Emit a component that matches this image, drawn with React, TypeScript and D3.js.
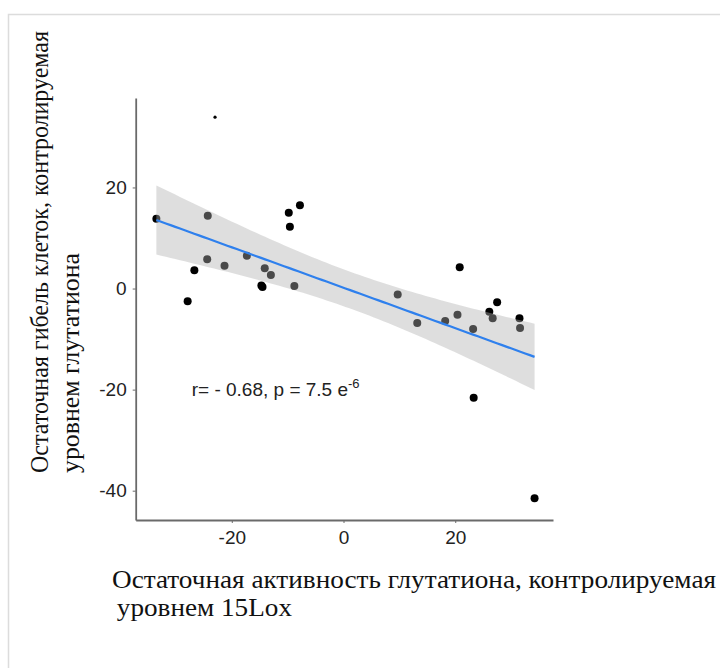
import { useRef, useEffect } from "react";
import * as d3 from "d3";

// points (x = residual glutathione activity, y = residual cell death)
const xVals = [-33.5, -24.3, -9.8, -7.8, -9.6, -24.4, -17.3, -26.7, -21.3, -14.1, -13.0, -14.7, -14.5, -8.8, -27.9,
  20.8, 9.7, 13.2, 18.2, 20.4, 23.2, 27.5, 26.1, 26.7, 31.5, 31.6, 23.3, 34.2];
const yVals = [13.8, 14.4, 15.0, 16.5, 12.2, 5.8, 6.5, 3.6, 4.5, 4.0, 2.7, 0.6, 0.3, 0.5, -2.5,
  4.2, -1.2, -6.8, -6.4, -5.2, -8.0, -2.7, -4.6, -5.9, -5.9, -7.8, -21.6, -41.5];
// the tiny stray mark above the cloud
const strayX = [-23.0];
const strayY = [33.9];

const xTicks = [-20, 0, 20];
const yTicks = [-40, -20, 0, 20];

// fitted line as drawn in the picture, 95% band
const fitIntercept = 0.16;
const fitSlope = -0.4;
const tCrit = 2.18;

const yLabelLines = ["Остаточная гибель клеток, контролируемая", "уровнем глутатиона"];
const xLabelLines = ["Остаточная активность глутатиона, контролируемая", " уровнем 15Lox"];

const Chart = () => {
  const svgRef = useRef<SVGSVGElement>(null);

  useEffect(() => {
    const svg = d3.select(svgRef.current);
    svg.selectAll("*").remove();

    const x = d3.scaleLinear().domain([-37.2, 37.5]).range([135.7, 553]);
    const y = d3.scaleLinear().domain([-45.8, 37.7]).range([520, 98]);

    // outer frame
    svg.append("rect")
      .attr("x", 8.5).attr("y", 14.5)
      .attr("width", 760).attr("height", 700)
      .attr("fill", "none")
      .attr("stroke", "#dcdcdc")
      .attr("stroke-width", 1.5);

    // points first, ribbon lays over them (that's why the inner ones look grey)
    const pts = xVals.map((v, i) => ({ x: v, y: yVals[i] }));
    svg.append("g")
      .selectAll("circle")
      .data(pts)
      .join("circle")
      .attr("cx", (d) => x(d.x))
      .attr("cy", (d) => y(d.y))
      .attr("r", 4)
      .attr("fill", "#000");

    svg.append("g")
      .selectAll("circle")
      .data(strayX.map((v, i) => ({ x: v, y: strayY[i] })))
      .join("circle")
      .attr("cx", (d) => x(d.x))
      .attr("cy", (d) => y(d.y))
      .attr("r", 1.6)
      .attr("fill", "#000");

    // confidence band
    const n = xVals.length;
    const mx = d3.mean(xVals) as number;
    const sxx = d3.sum(xVals, (v) => (v - mx) ** 2);
    const rss = d3.sum(pts, (d) => (d.y - (fitIntercept + fitSlope * d.x)) ** 2);
    const se = Math.sqrt(rss / (n - 2));
    const [x0, x1] = d3.extent(xVals) as [number, number];
    const grid = d3.range(0, 81).map((i) => x0 + ((x1 - x0) * i) / 80);
    const band = grid.map((gx) => {
      const fit = fitIntercept + fitSlope * gx;
      const hw = tCrit * se * Math.sqrt(1 / n + (gx - mx) ** 2 / sxx);
      return { x: gx, fit, lo: fit - hw, hi: fit + hw };
    });

    svg.append("path")
      .datum(band)
      .attr("d", d3.area<any>().x((d) => x(d.x)).y0((d) => y(d.lo)).y1((d) => y(d.hi)))
      .attr("fill", "#b0b0b0")
      .attr("fill-opacity", 0.42);

    svg.append("path")
      .datum(band)
      .attr("d", d3.line<any>().x((d) => x(d.x)).y((d) => y(d.fit)))
      .attr("fill", "none")
      .attr("stroke", "#2f80ed")
      .attr("stroke-width", 2.2);

    // axes (plain hyphen for negatives, like the original)
    const fmt = (d: any) => String(d);
    const yAxis = svg.append("g")
      .attr("transform", "translate(135.7,0)")
      .call(d3.axisLeft(y).tickValues(yTicks).tickSize(3).tickSizeOuter(0).tickPadding(6).tickFormat(fmt));
    const xAxis = svg.append("g")
      .attr("transform", "translate(0,520)")
      .call(d3.axisBottom(x).tickValues(xTicks).tickSize(3).tickSizeOuter(0).tickPadding(8).tickFormat(fmt));
    [xAxis, yAxis].forEach((g) => {
      g.select(".domain").attr("stroke", "#6a6a6a").attr("stroke-width", 1.8);
      g.selectAll(".tick line").attr("stroke", "#6a6a6a");
      g.selectAll(".tick text")
        .attr("fill", "#222")
        .style("font-family", "'Liberation Sans', Arial, sans-serif")
        .style("font-size", "19px");
    });

    // annotation
    const ann = svg.append("text")
      .attr("x", 191.7).attr("y", 395.5)
      .attr("fill", "#222")
      .style("font-family", "'Liberation Sans', Arial, sans-serif")
      .style("font-size", "19px");
    ann.append("tspan").text("r= - 0.68, p = 7.5 e");
    ann.append("tspan").attr("dy", -8).style("font-size", "13px").text("-6");

    // axis titles
    const serif = "'Liberation Serif', 'Times New Roman', serif";
    const yLab = svg.append("g").attr("transform", "rotate(-90)");
    yLab.selectAll("text")
      .data(yLabelLines)
      .join("text")
      .attr("x", -473)
      .attr("y", (d, i) => 48 + i * 31)
      .attr("textLength", (d, i) => (i === 0 ? 442 : 220))
      .attr("lengthAdjust", "spacingAndGlyphs")
      .attr("fill", "#111")
      .style("font-family", serif)
      .style("font-size", "25px")
      .text((d) => d);

    svg.append("g")
      .selectAll("text")
      .data(xLabelLines)
      .join("text")
      .attr("x", (d, i) => (i === 0 ? 112 : 110))
      .attr("y", (d, i) => 588 + i * 28)
      .attr("textLength", (d, i) => (i === 0 ? 604 : 182))
      .attr("lengthAdjust", "spacingAndGlyphs")
      .attr("fill", "#111")
      .style("font-family", serif)
      .style("font-size", "25px")
      .style("white-space", "pre")
      .text((d) => d);
  }, []);

  return (
    <svg
      ref={svgRef}
      width={720}
      height={668}
      style={{ position: "absolute", left: 0, top: 0, background: "#fff" }}
    ></svg>
  );
};

export default function App() {
  return <Chart />;
}
